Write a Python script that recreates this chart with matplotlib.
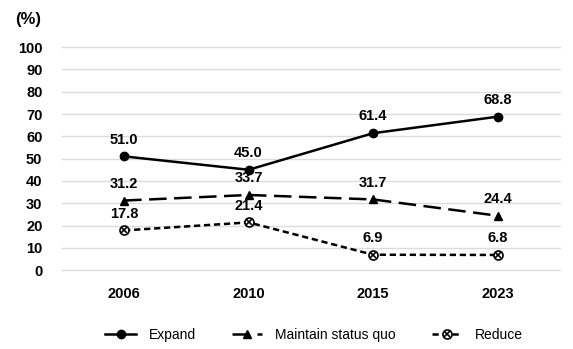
import matplotlib
matplotlib.use("Agg")
import matplotlib.pyplot as plt
from matplotlib.legend_handler import HandlerTuple

years = ["2006", "2010", "2015", "2023"]
expand = [51.0, 45.0, 61.4, 68.8]
maintain = [31.2, 33.7, 31.7, 24.4]
reduce_ = [17.8, 21.4, 6.9, 6.8]
yticks = list(range(0, 101, 10))

plt.rcParams["font.family"] = ["Liberation Sans", "DejaVu Sans"]

fig = plt.figure(figsize=(5.73, 3.49), dpi=100)
ax = fig.add_axes([0.108, 0.226, 0.869, 0.639])
x = list(range(len(years)))

l1, = ax.plot(x, expand, color="black", lw=1.8, marker="o", ms=6)
l2, = ax.plot(x, maintain, color="black", lw=1.8, ls=(0, (7, 3)), marker="^", ms=6)
l3, = ax.plot(x, reduce_, color="black", lw=1.8, ls=(0, (2.5, 1.5)), marker="o",
              ms=6.5, mfc="white", mew=1.2)
l3x, = ax.plot(x, reduce_, color="black", lw=0, marker="x", ms=4.5, mew=1.2)

for series in (expand, maintain, reduce_):
    for xi, v in zip(x, series):
        ax.annotate(f"{v:.1f}", (xi, v), xytext=(0, 7), textcoords="offset points",
                    ha="center", va="bottom", fontsize=10.5, fontweight="bold")

ax.set_xlim(-0.5, 3.5)
ax.set_ylim(0, 100)
ax.set_yticks(yticks)
ax.set_xticks(x)
ax.set_xticklabels(years, fontweight="bold", fontsize=10.5)
for t in ax.get_yticklabels():
    t.set_fontweight("bold")
    t.set_fontsize(10.5)
ax.tick_params(length=0)
ax.tick_params(axis="y", pad=14)
ax.tick_params(axis="x", pad=12)
ax.grid(axis="y", color="#dcdcdc", lw=1, clip_on=False)
ax.set_axisbelow(True)
for s in ax.spines.values():
    s.set_visible(False)

fig.text(0.026, 0.945, "(%)", fontsize=12, fontweight="bold", ha="left", va="center")

fig.legend([l1, l2, (l3, l3x)], ["Expand", "Maintain status quo", "Reduce"],
           loc="center", bbox_to_anchor=(0.548, 0.04), ncol=3, frameon=False,
           fontsize=10, handlelength=2.2, handletextpad=0.9, columnspacing=2.6,
           handler_map={tuple: HandlerTuple(ndivide=1)})

fig.savefig("out.png", dpi=100)
